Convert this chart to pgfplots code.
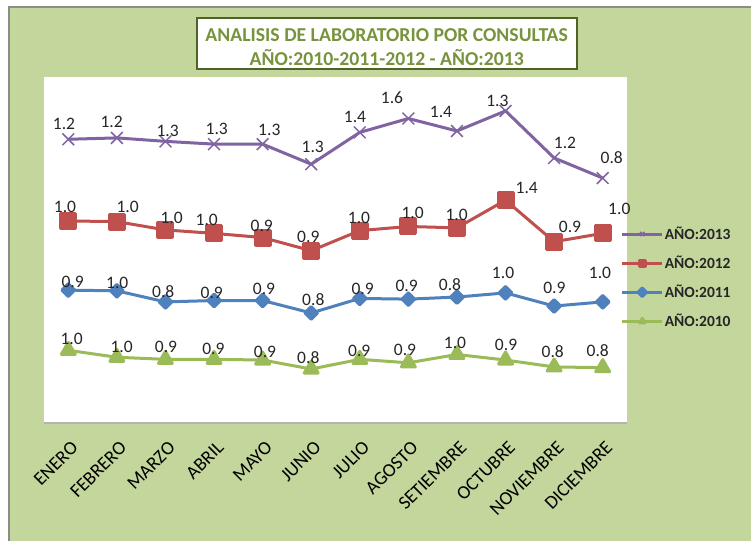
\documentclass[border=0pt]{standalone}
\usepackage{fontspec}
\setmainfont{Carlito}
\usepackage{pgfplots}
\usepackage{pgfplotstable}
\pgfplotsset{compat=1.18}

\definecolor{bggreen}{HTML}{C3D69B}
\definecolor{titlegreen}{HTML}{77933C}
\definecolor{titleborder}{HTML}{4F6228}
\definecolor{framegray}{HTML}{8C8C8C}
\definecolor{axisgray}{HTML}{B3B3B3}
\definecolor{c2013}{HTML}{8064A2}
\definecolor{c2012}{HTML}{C0504D}
\definecolor{c2011}{HTML}{4F81BD}
\definecolor{c2010}{HTML}{9BBB59}

% stacked (cumulative) positions as drawn; lab = data label, lx/ly = label offset in bp
\pgfplotstableread{
x y lab lx ly
0 4.10 1.2 -4.3 15
1 4.12 1.2 -5.2 16.3
2 4.07 1.3 2.2 10
3 4.03 1.3 2.7 15.7
4 4.03 1.3 6.7 14.3
5 3.74 1.3 1.5 17.6
6 4.20 1.4 -4.8 15.6
7 4.40 1.6 -16.4 21
8 4.22 1.4 -16 19.3
9 4.51 1.3 -8.2 10.3
10 3.83 1.2 10.9 15
11 3.54 0.8 9 20
}\tblA
\pgfplotstableread{
x y lab lx ly
0 2.92 1.0 -3.3 14.3
1 2.91 1.0 10.8 15
2 2.79 1.0 6.2 11.7
3 2.74 1.0 -7.3 13.3
4 2.68 0.9 -0.9 11.7
5 2.49 0.9 -2.9 14
6 2.78 1.0 -0.8 12.4
7 2.84 1.0 4.3 13.4
8 2.82 1.0 -0.3 13.4
9 3.22 1.4 21.2 12.7
10 2.62 0.9 15.9 15
11 2.74 1.0 16.6 25
}\tblB
\pgfplotstableread{
x y lab lx ly
0 1.92 0.9 4.4 8.3
1 1.91 1.0 0.4 8
2 1.75 0.8 -2.2 10
3 1.77 0.9 -2.3 8
4 1.77 0.9 1.4 11.4
5 1.59 0.8 2.1 13.3
6 1.80 0.9 2.9 10
7 1.79 0.9 -1.7 13
8 1.82 0.8 -7 12.3
9 1.88 1.0 -2.5 19.7
10 1.69 0.9 0.2 17.7
11 1.75 1.0 -2.7 28.7
}\tblC
\pgfplotstableread{
x y lab lx ly
0 1.05 1.0 3.4 11.7
1 0.95 1.0 4.8 10
2 0.92 0.9 0.5 12.3
3 0.92 0.9 -0.7 10.3
4 0.91 0.9 2.4 8.3
5 0.78 0.8 -2.9 11
6 0.92 0.9 -0.5 8.3
7 0.87 0.9 -3.4 12.7
8 0.99 1.0 -2 11.6
9 0.91 0.9 0.5 15
10 0.81 0.8 -1.4 15
11 0.80 0.8 -5 16.6
}\tblD

\begin{document}
\begin{tikzpicture}
\useasboundingbox (0bp,0bp) rectangle (751bp,541bp);
\fill[white] (0bp,0bp) rectangle (751bp,541bp);
\fill[bggreen] (9bp,0bp) rectangle (751bp,534bp);
\draw[framegray, line width=2bp] (9bp,0bp) -- (9bp,534bp) -- (751bp,534bp);
\fill[white] (44bp,118bp) rectangle (627bp,464bp);

\draw[titleborder, fill=white, line width=2bp] (196.7bp,471.7bp) rectangle (576.7bp,522.7bp);
\node[text=titlegreen, align=center, inner sep=0pt,
      font=\bfseries\fontsize{19.7bp}{24.3bp}\selectfont] at (386.7bp,493.8bp)
  {ANALISIS DE LABORATORIO POR CONSULTAS\\AÑO:2010-2011-2012 - AÑO:2013};

\begin{axis}[
  at={(44bp,118bp)}, anchor=south west,
  width=583bp, height=346bp, scale only axis,
  xmin=-0.5, xmax=11.5, ymin=0, ymax=5,
  axis x line*=bottom, axis y line=none,
  x axis line style={draw=axisgray, line width=1.5bp},
  xtick={0,...,11},
  xticklabels={ENERO,FEBRERO,MARZO,ABRIL,MAYO,JUNIO,JULIO,AGOSTO,SETIEMBRE,OCTUBRE,NOVIEMBRE,DICIEMBRE},
  major tick length=0pt, xtick style={draw=none},
  xticklabel style={font=\fontsize{19bp}{19bp}\selectfont, xshift=2bp, rotate=45, anchor=north east, inner sep=0pt},
  xticklabel shift=17bp,
  ytick=\empty,
  clip=false,
  point meta=explicit symbolic,
  nodes near coords,
  visualization depends on={\thisrow{lx}\as\lblx},
  visualization depends on={\thisrow{ly}\as\lbly},
  every node near coord/.append style={anchor=center, inner sep=0pt, xshift=\lblx bp, yshift=\lbly bp,
    font=\fontsize{17.5bp}{17.5bp}\selectfont, text=black!85},
  every axis plot/.append style={line width=3bp, line join=round},
  legend image code/.code={\draw[mark repeat=2,mark phase=2,#1,mark size=3bp] plot coordinates {(0bp,0bp) (20bp,0bp) (40bp,0bp)};},
  legend cell align=left,
  legend style={draw=none, fill=none, at={(0.989,0.57)}, anchor=north west, inner sep=0pt,
    row sep=13bp, nodes={inner sep=1bp}, text=black!85,
    font=\bfseries\fontsize{15.5bp}{18bp}\selectfont},
]
\addplot[c2013, mark=x, mark size=8.3bp, mark options={line width=1.5bp}] table[x=x, y=y, meta=lab] {\tblA};
\addlegendentry{AÑO:2013}
\addplot[c2012, mark=square*, mark size=7.5bp] table[x=x, y=y, meta=lab] {\tblB};
\addlegendentry{AÑO:2012}
\addplot[c2011, mark=square*, mark size=4.5bp, mark options={rotate=45}] table[x=x, y=y, meta=lab] {\tblC};
\addlegendentry{AÑO:2011}
\addplot[c2010, mark=triangle*, mark size=8bp] table[x=x, y=y, meta=lab] {\tblD};
\addlegendentry{AÑO:2010}
\end{axis}
\end{tikzpicture}
\end{document}
